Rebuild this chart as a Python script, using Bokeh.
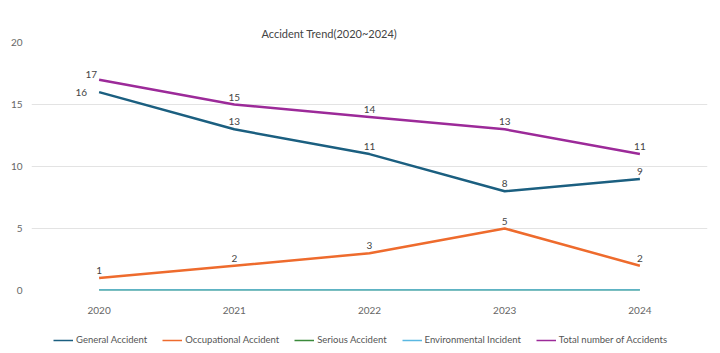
from bokeh.plotting import figure
from bokeh.layouts import column
from bokeh.models import ColumnDataSource, Legend, LegendItem, FactorRange, SingleIntervalTicker
from bokeh.embed import file_html
from bokeh.resources import INLINE
from bokeh.core.properties import value

years = ["2020", "2021", "2022", "2023", "2024"]
general = [16, 13, 11, 8, 9]
occupational = [1, 2, 3, 5, 2]
serious = [0, 0, 0, 0, 0]
environmental = [0, 0, 0, 0, 0]
total = [17, 15, 14, 13, 11]

series_names = ["General Accident", "Occupational Accident", "Serious Accident",
                "Environmental Incident", "Total number of Accidents"]
colors = ["#1b5f80", "#ee6b2d", "#3b8a3b", "#5ab8e2", "#9c2a99"]

FONT = "Lato"

p = figure(width=720, height=320, x_range=FactorRange(factors=years, range_padding=0),
           y_range=(0, 20), output_backend="svg", toolbar_location=None,
           min_border_left=31, min_border_right=13, min_border_top=42, min_border_bottom=30)
p.outline_line_color = None
p.background_fill_color = "white"
p.border_fill_color = "white"

p.title.text = "Accident Trend(2020~2024)"
p.title.align = "left"
p.title.offset = 230
p.title.text_font = FONT
p.title.text_font_size = "11px"
p.title.text_font_style = "normal"
p.title.text_color = "#444444"
p.title.standoff = 6

p.yaxis.ticker = SingleIntervalTicker(interval=5)
p.yaxis.axis_line_color = None
p.yaxis.major_tick_line_color = None
p.yaxis.minor_tick_line_color = None
p.yaxis.major_label_standoff = 3
p.xaxis.axis_line_color = None
p.xaxis.major_tick_line_color = None
p.xaxis.major_label_standoff = 10
for ax in (p.xaxis, p.yaxis):
    ax.major_label_text_font = FONT
    ax.major_label_text_font_size = "10px"
    ax.major_label_text_color = "#666666"
p.xgrid.grid_line_color = None
p.ygrid.grid_line_color = "#e3e3e3"
p.ygrid.grid_line_width = 1

all_vals = [general, occupational, serious, environmental, total]
for name, vals, col in zip(series_names, all_vals, colors):
    src = ColumnDataSource(dict(x=years, y=vals))
    p.line("x", "y", source=src, line_color=col, line_width=2.5)

# data labels for non-zero series
label_series = [general, occupational, total]
for vals in label_series:
    for i, v in enumerate(vals):
        if i == 0 and vals is general:
            xo, yo, al, bl = -12, 0, "right", "middle"
        elif i == 0 and vals is total:
            xo, yo, al, bl = -2, -2, "right", "bottom"
        else:
            xo, yo, al, bl = 0, -4, "center", "bottom"
        src = ColumnDataSource(dict(x=[years[i]], y=[v], t=[str(v)]))
        p.text("x", "y", text="t", source=src, x_offset=xo, y_offset=yo,
               text_align=al, text_baseline=bl, text_font=value(FONT),
               text_font_size="10px", text_color="#444444")

# legend strip below the chart (its line renderers sit outside the visible range)
lf = figure(width=720, height=33, output_backend="svg", toolbar_location=None,
            x_range=(0, 1), y_range=(0, 1), min_border=0)
lf.axis.visible = False
lf.grid.visible = False
lf.outline_line_color = None
lf.border_fill_color = "white"
items = []
for name, col in zip(series_names, colors):
    r = lf.line(x=[5, 6], y=[5, 6], line_color=col, line_width=1.5)
    items.append(LegendItem(label=name, renderers=[r]))
legend = Legend(items=items, orientation="horizontal", location=(22, 8))
legend.label_text_font = FONT
legend.label_text_font_size = "9.5px"
legend.label_text_color = "#555555"
legend.glyph_width = 20
legend.glyph_height = 10
legend.label_standoff = 3
legend.spacing = 15
legend.border_line_color = None
legend.background_fill_alpha = 0
legend.padding = 2
legend.margin = 0
lf.add_layout(legend, "center")

open("out.html", "w").write(file_html(column(p, lf, spacing=0), INLINE))
